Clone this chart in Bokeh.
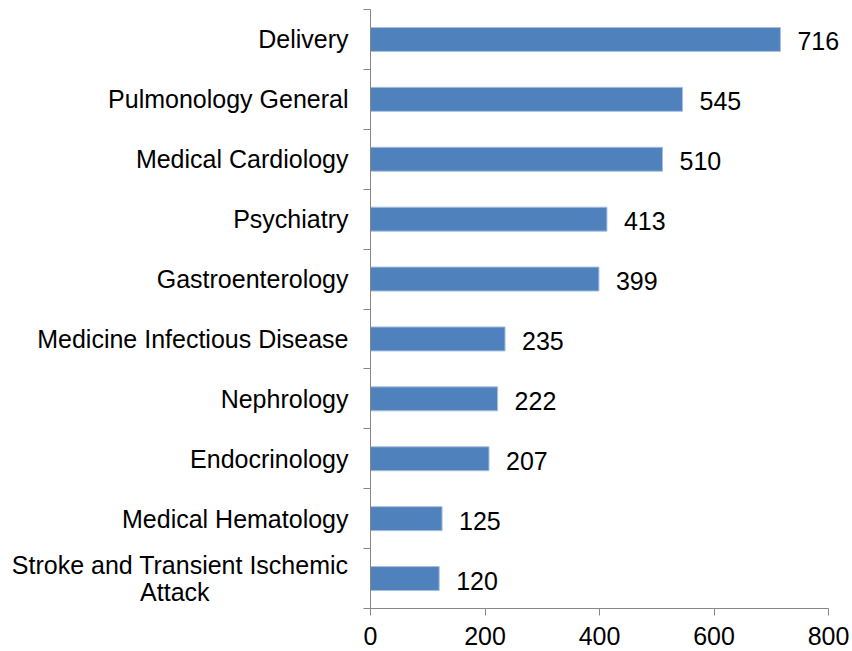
from bokeh.plotting import figure
from bokeh.models import Range1d, FixedTicker, ColumnDataSource
from bokeh.core.properties import value
from bokeh.embed import file_html
from bokeh.resources import INLINE

categories = ["Delivery", "Pulmonology General", "Medical Cardiology", "Psychiatry",
              "Gastroenterology", "Medicine Infectious Disease", "Nephrology",
              "Endocrinology", "Medical Hematology",
              "Stroke and Transient Ischemic\nAttack" + "\u00a0" * 20]
counts = [716, 545, 510, 413, 399, 235, 222, 207, 125, 120]
x_ticks = [0, 200, 400, 600, 800]

n = len(categories)
pos = [i + 0.5 for i in range(n)]
src = ColumnDataSource(dict(y=pos, x=counts, lbl=[str(c) for c in counts]))

# frame spans 370..850 px; axis 0..800 ends at 828 px
p = figure(width=850, height=650, output_backend="svg", toolbar_location=None,
           x_range=Range1d(0, 838.4), y_range=Range1d(n, 0),
           min_border_left=370, min_border_right=0, min_border_top=9, min_border_bottom=42)
p.outline_line_color = None
p.xgrid.visible = False
p.ygrid.visible = False

p.hbar(y="y", right="x", left=0, height=0.4, source=src,
       fill_color="#4F81BD", line_color="#A7BFDE", line_width=1)
p.text(x="x", y="y", text="lbl", source=src, x_offset=17, y_offset=2,
       text_align="left", text_baseline="middle", text_font=value("Liberation Sans"),
       text_font_size="25px", text_color="#000000")

axis_col = "#868686"
p.xaxis.ticker = FixedTicker(ticks=x_ticks)
p.xaxis.bounds = (0, 800)
p.xaxis.axis_line_color = axis_col
p.xaxis.major_tick_line_color = axis_col
p.xaxis.major_tick_in = 0
p.xaxis.major_tick_out = 7
p.xaxis.minor_tick_line_color = None
p.xaxis.major_label_text_font = "Liberation Sans"
p.xaxis.major_label_text_font_size = "25px"
p.xaxis.major_label_text_color = "#000000"
p.xaxis.major_label_standoff = 11

p.yaxis.ticker = FixedTicker(ticks=pos, minor_ticks=list(range(n + 1)))
p.yaxis.major_label_overrides = {pp: c for pp, c in zip(pos, categories)}
p.yaxis.axis_line_color = axis_col
p.yaxis.major_tick_line_color = None
p.yaxis.major_tick_in = 0
p.yaxis.major_tick_out = 0
p.yaxis.minor_tick_line_color = axis_col
p.yaxis.minor_tick_in = 0
p.yaxis.minor_tick_out = 7
p.yaxis.major_label_text_font = "Liberation Sans"
p.yaxis.major_label_text_font_size = "25px"
p.yaxis.major_label_text_line_height = 0.95
p.yaxis.major_label_text_color = "#000000"
p.yaxis.major_label_standoff = 15

open("out.html", "w").write(file_html(p, INLINE))
